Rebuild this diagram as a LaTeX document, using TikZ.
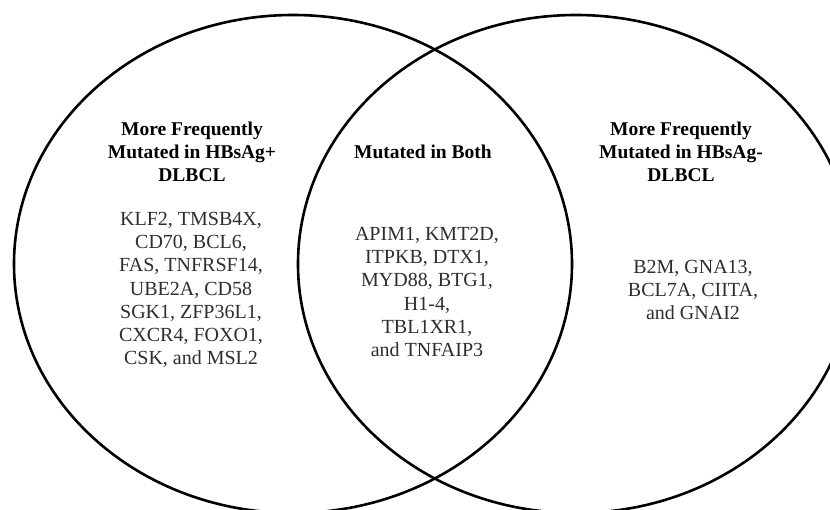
\documentclass[tikz,border=0pt]{standalone}
\usepackage{fontspec}
\setmainfont{Liberation Serif}
\begin{document}
\begin{tikzpicture}[x=1pt,y=-1pt,
  ring/.style={line width=2.6pt,black},
  head/.style={align=center,inner sep=0pt,font=\fontsize{19.5}{23.3}\selectfont\bfseries,text=black},
  genes/.style={align=center,inner sep=0pt,font=\fontsize{20}{23.3}\selectfont,text=black!82}]
\useasboundingbox (0,0) rectangle (830,510);
\clip (0,0) rectangle (830,510);
\fill[white] (0,0) rectangle (830,510);
\draw[ring] (293,264) ellipse [x radius=279, y radius=249];
\draw[ring] (576,264) ellipse [x radius=278, y radius=249];
\node[head] (lh) at (192,152) {More Frequently\\Mutated in HBsAg+\\DLBCL};
\node[genes] (lg) at (191,290) {KLF2, TMSB4X,\\CD70, BCL6,\\FAS, TNFRSF14,\\UBE2A, CD58\\SGK1, ZFP36L1,\\CXCR4, FOXO1,\\CSK, and MSL2};
\node[head] (mh) at (423,152) {Mutated in Both};
\node[genes] (mg) at (427,292) {APIM1, KMT2D,\\ITPKB, DTX1,\\MYD88, BTG1,\\H1-4,\\TBL1XR1,\\and TNFAIP3};
\node[head] (rh) at (681,152) {More Frequently\\Mutated in HBsAg-\\DLBCL};
\node[genes] (rg) at (693,290) {B2M, GNA13,\\BCL7A, CIITA,\\and GNAI2};
\end{tikzpicture}
\end{document}
